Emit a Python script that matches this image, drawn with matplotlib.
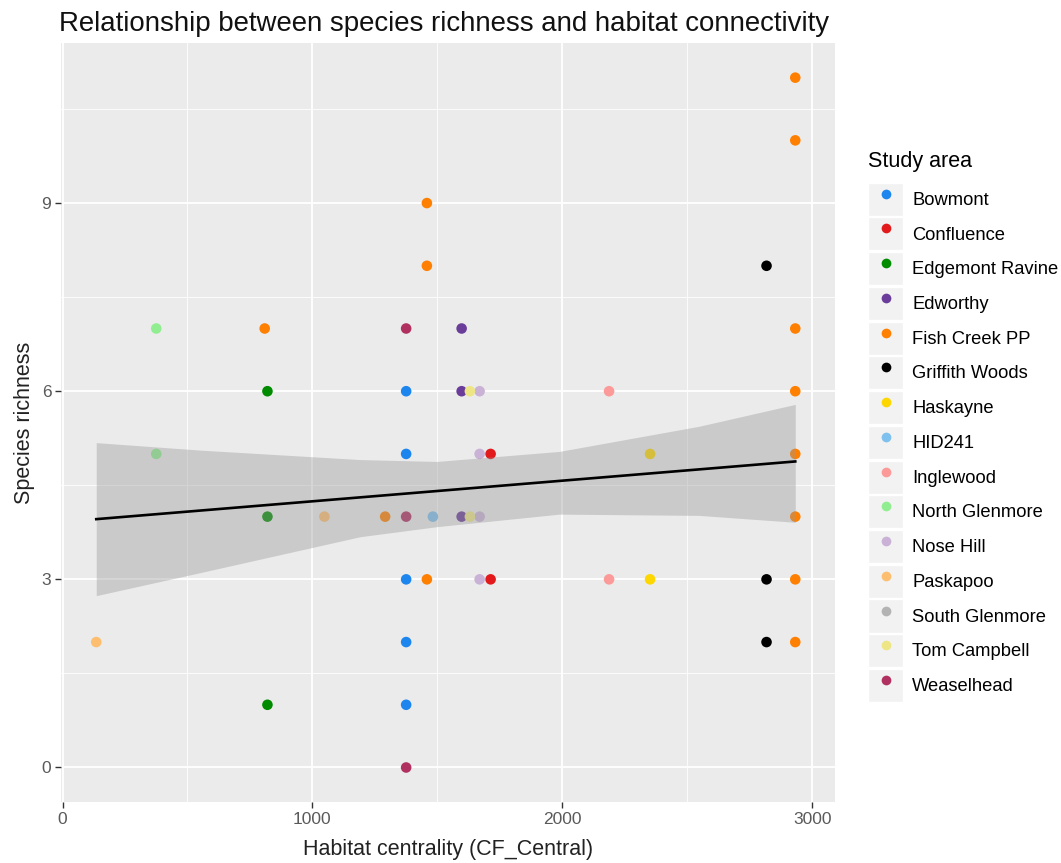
import numpy as np
import matplotlib.pyplot as plt
from matplotlib.patches import Rectangle
from matplotlib.lines import Line2D
from matplotlib.legend_handler import HandlerTuple

plt.rcParams['font.family'] = ['Liberation Sans', 'DejaVu Sans']

# study areas, in legend order, with their colours
areas = ["Bowmont", "Confluence", "Edgemont Ravine", "Edworthy", "Fish Creek PP",
         "Griffith Woods", "Haskayne", "HID241", "Inglewood", "North Glenmore",
         "Nose Hill", "Paskapoo", "South Glenmore", "Tom Campbell", "Weaselhead"]
colors = ["#1C86EE", "#E31A1C", "#008B00", "#6A3D9A", "#FF7F00",
          "#000000", "#FFD700", "#7EC0EE", "#FB9A99", "#90EE90",
          "#CAB2D6", "#FDBF6F", "#B3B3B3", "#EEE685", "#B03060"]

# habitat centrality (x) and species richness (y) per camera
centrality = {
    "Bowmont": [1375, 1375, 1375, 1375, 1375],
    "Confluence": [1713, 1713],
    "Edgemont Ravine": [820, 820, 820],
    "Edworthy": [1597, 1597, 1597],
    "Fish Creek PP": [809, 1291, 1458, 1458, 1458,
                      2932, 2932, 2932, 2932, 2932, 2932, 2932, 2932],
    "Griffith Woods": [2817, 2817, 2817],
    "Haskayne": [2351, 2351],
    "HID241": [1482],
    "Inglewood": [2187, 2187],
    "North Glenmore": [375, 375],
    "Nose Hill": [1669, 1669, 1669, 1669],
    "Paskapoo": [135, 1048],
    "South Glenmore": [],
    "Tom Campbell": [1630, 1630],
    "Weaselhead": [1375, 1375, 1375],
}
richness = {
    "Bowmont": [6, 5, 3, 2, 1],
    "Confluence": [5, 3],
    "Edgemont Ravine": [6, 4, 1],
    "Edworthy": [7, 6, 4],
    "Fish Creek PP": [7, 4, 9, 8, 3, 11, 10, 7, 6, 5, 4, 3, 2],
    "Griffith Woods": [8, 3, 2],
    "Haskayne": [5, 3],
    "HID241": [4],
    "Inglewood": [6, 3],
    "North Glenmore": [7, 5],
    "Nose Hill": [6, 5, 4, 3],
    "Paskapoo": [2, 4],
    "South Glenmore": [],
    "Tom Campbell": [6, 4],
    "Weaselhead": [7, 4, 0],
}

# lm smoother (line ends and the 95% band)
fit_x = [135, 2932]
fit_y = [3.96, 4.88]
band_x = [135, 554, 1191, 1498, 1988, 2546, 2932]
band_upper = [5.18, 5.06, 4.91, 4.88, 5.04, 5.44, 5.79]
band_lower = [2.74, 3.11, 3.68, 3.84, 4.04, 4.02, 3.91]

fig = plt.figure(figsize=(10.61, 8.63), dpi=100)
ax = fig.add_axes([0.0575, 0.0707, 0.7295, 0.8793])
ax.set_facecolor("#EBEBEB")

handles = []
for name, col in zip(areas, colors):
    ax.scatter(centrality[name], richness[name], s=58, color=col,
               edgecolors="none", zorder=3)
    key_bg = Rectangle((0, 0), 1, 1, facecolor="#F2F2F2", edgecolor="white", lw=1)
    dot = Line2D([], [], linestyle="none", marker="o", markersize=7,
                 markerfacecolor=col, markeredgecolor="none")
    handles.append((key_bg, dot))

ax.fill_between(band_x, band_lower, band_upper, color="#999999",
                alpha=0.4, linewidth=0, zorder=4)
ax.plot(fit_x, fit_y, color="black", lw=1.9, zorder=5)

ax.set_xlim(-6, 3091)
ax.set_ylim(-0.55, 11.55)
ax.set_xticks([0, 1000, 2000, 3000])
ax.set_yticks([0, 3, 6, 9])
ax.set_xticks([500, 1500, 2500], minor=True)
ax.set_yticks([1.5, 4.5, 7.5, 10.5], minor=True)
ax.grid(which="major", color="white", lw=1.3, zorder=0)
ax.grid(which="minor", color="white", lw=0.6, zorder=0)
ax.set_axisbelow(True)
for sp in ax.spines.values():
    sp.set_visible(False)
ax.tick_params(which="major", length=4, width=1, color="#333333",
               labelsize=12.5, labelcolor="#5a5a5a", pad=3)
ax.tick_params(which="minor", length=0)

ax.set_xlabel("Habitat centrality (CF_Central)", fontsize=15.5, color="#222222", labelpad=9)
ax.set_ylabel("Species richness", fontsize=15.5, color="#222222", labelpad=5)
ax.set_title("Relationship between species richness and habitat connectivity",
             fontsize=19.9, loc="left", x=-0.002, pad=9, color="#111111")

leg = ax.legend(handles, areas, handler_map={tuple: HandlerTuple(ndivide=1, pad=0)},
                title="Study area", loc="upper left", bbox_to_anchor=(1.043, 0.858),
                frameon=False, fontsize=13.2, title_fontsize=15.5,
                handlelength=1.9, handleheight=2.4, handletextpad=0.5,
                labelspacing=0.09, borderaxespad=0, borderpad=0)
leg._legend_box.align = "left"
leg._legend_box.sep = 7.7  # a bit more room under the legend title

fig.savefig("out.png", dpi=100)
